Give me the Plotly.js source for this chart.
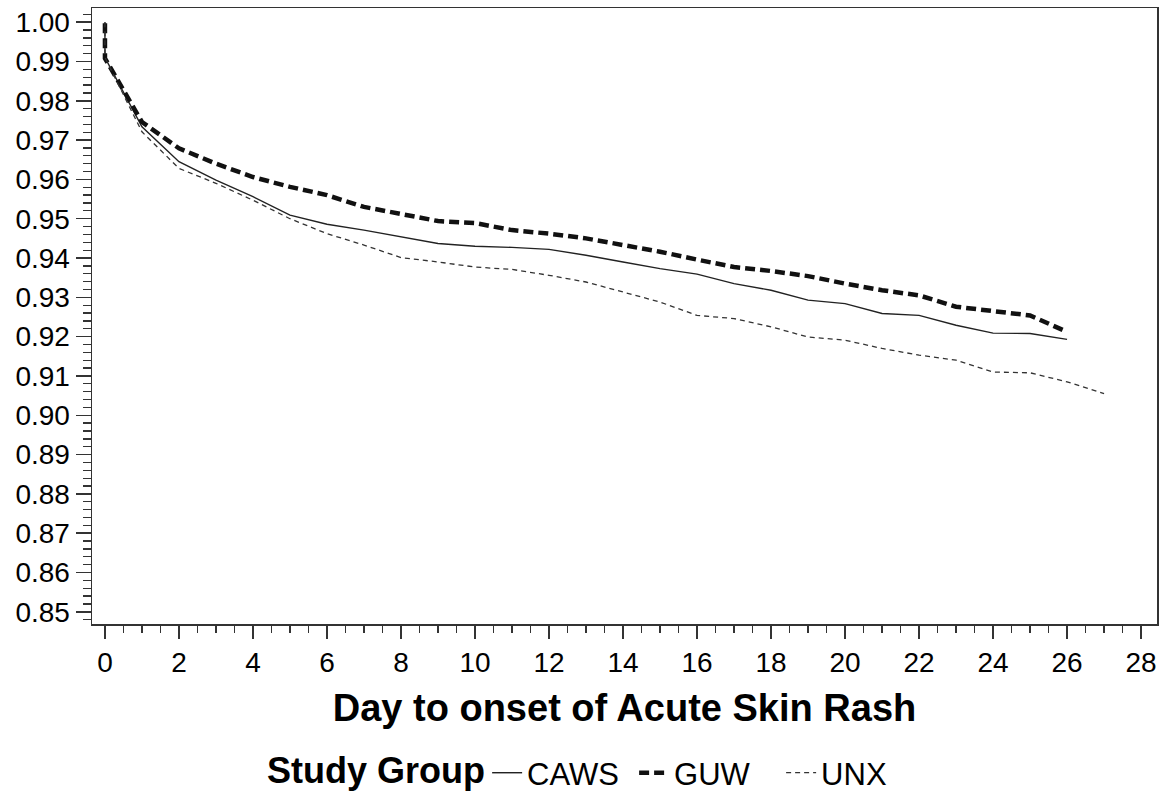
<!DOCTYPE html>
<html>
<head>
<meta charset="utf-8">
<script src="https://cdn.plot.ly/plotly-3.0.1.min.js"></script>
<style>
  html, body { margin: 0; padding: 0; background: #fff; }
  #chart { width: 1163px; height: 792px; }
</style>
</head>
<body>
<div id="chart"></div>
<script>
// Day to onset (x) and survival proportion (y) per study group
const cawsDays = [0, 0, 1, 2, 3, 4, 5, 6, 7, 8, 9, 10, 11, 12, 13, 14, 15, 16, 17, 18, 19, 20, 21, 22, 23, 24, 25, 26];
const cawsVals = [1.000, 0.9910, 0.9734, 0.9645, 0.9598, 0.9556, 0.9509, 0.9486, 0.9471, 0.9454, 0.9437, 0.9430, 0.9427, 0.9422, 0.9407, 0.9390, 0.9373, 0.9359, 0.9335, 0.9318, 0.9293, 0.9284, 0.9259, 0.9254, 0.9229, 0.9209, 0.9208, 0.9193];

const guwDays = [0, 0, 1, 2, 3, 4, 5, 6, 7, 8, 9, 10, 11, 12, 13, 14, 15, 16, 17, 18, 19, 20, 21, 22, 23, 24, 25, 26];
const guwVals = [0.9997, 0.9908, 0.9746, 0.9679, 0.9640, 0.9606, 0.9581, 0.9560, 0.9530, 0.9511, 0.9494, 0.9489, 0.9471, 0.9462, 0.9450, 0.9433, 0.9416, 0.9396, 0.9377, 0.9367, 0.9354, 0.9335, 0.9318, 0.9305, 0.9276, 0.9265, 0.9254, 0.9212];

const unxDays = [0, 0, 1, 2, 3, 4, 5, 6, 7, 8, 9, 10, 11, 12, 13, 14, 15, 16, 17, 18, 19, 20, 21, 22, 23, 24, 25, 26, 27];
const unxVals = [1.000, 0.9910, 0.9721, 0.9628, 0.9590, 0.9547, 0.9500, 0.9462, 0.9433, 0.9401, 0.9390, 0.9377, 0.9371, 0.9356, 0.9339, 0.9314, 0.9288, 0.9254, 0.9246, 0.9225, 0.9199, 0.9191, 0.9170, 0.9153, 0.9140, 0.9110, 0.9108, 0.9085, 0.9055];

const groupNames = ['CAWS', 'GUW', 'UNX'];
const xTitle = 'Day to onset of Acute Skin Rash';
const legendTitle = 'Study Group';

const FONT = 'Liberation Sans, Arial, Helvetica, sans-serif';

const traces = [
  { x: cawsDays, y: cawsVals, name: groupNames[0], mode: 'lines',
    line: { color: '#222', width: 1.4, dash: 'solid' } },
  { x: guwDays, y: guwVals, name: groupNames[1], mode: 'lines',
    line: { color: '#111', width: 4.5, dash: '10px,5px' } },
  { x: unxDays, y: unxVals, name: groupNames[2], mode: 'lines',
    line: { color: '#333', width: 1.3, dash: '5px,4px' } }
];

const layout = {
  width: 1163, height: 792,
  paper_bgcolor: '#fff', plot_bgcolor: '#fff',
  margin: { l: 92, r: 6, t: 8, b: 168, autoexpand: false },
  font: { family: FONT, color: '#000' },
  showlegend: true,
  legend: {
    orientation: 'h', x: 0.371, xanchor: 'left', y: -0.242, yanchor: 'middle',
    font: { family: FONT, size: 31, color: '#000' },
    itemwidth: 30, entrywidth: 102, entrywidthmode: 'pixels',
    tracegroupgap: 0, bgcolor: 'rgba(0,0,0,0)'
  },
  annotations: [{
    text: legendTitle, xref: 'paper', yref: 'paper',
    x: 0.371, xanchor: 'right', y: -0.238, yanchor: 'middle', showarrow: false,
    font: { family: FONT, size: 36, color: '#000', weight: 'bold' }
  }],
  xaxis: {
    range: [-0.35, 28.43], tick0: 0, dtick: 2,
    showgrid: false, zeroline: false,
    showline: true, mirror: true, linecolor: '#333', linewidth: 1.5,
    ticks: 'outside', ticklen: 13, tickwidth: 1.5, tickcolor: '#333',
    tickfont: { family: FONT, size: 28, color: '#000' },
    minor: { dtick: 0.5, ticks: 'outside', ticklen: 7, tickwidth: 1.3, tickcolor: '#333', showgrid: false },
    title: { text: xTitle, standoff: 17, font: { family: FONT, size: 38, color: '#000', weight: 'bold' } }
  },
  yaxis: {
    range: [0.8469, 1.0036], tick0: 0.85, dtick: 0.01, tickformat: '.2f',
    showgrid: false, zeroline: false,
    showline: true, mirror: true, linecolor: '#333', linewidth: 1.5,
    ticks: 'outside', ticklen: 15, tickwidth: 1.5, tickcolor: '#333',
    tickfont: { family: FONT, size: 28, color: '#000' },
    minor: { dtick: 0.002, ticks: 'outside', ticklen: 8, tickwidth: 1.3, tickcolor: '#333', showgrid: false }
  }
};

Plotly.newPlot('chart', traces, layout, { displayModeBar: false, staticPlot: true });
</script>
</body>
</html>
